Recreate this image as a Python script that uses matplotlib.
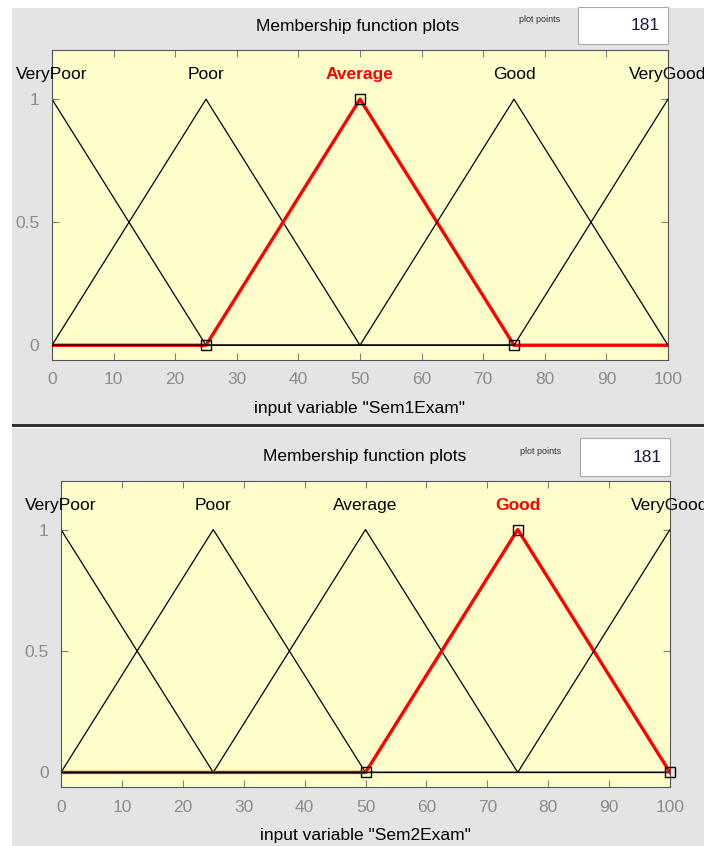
import matplotlib
matplotlib.use("Agg")
import matplotlib.pyplot as plt
from matplotlib.patches import Rectangle

plt.rcParams['font.family'] = ['Liberation Sans Narrow', 'Liberation Sans', 'DejaVu Sans']

# membership functions (triangles), vertices clipped to [0, 100]
mf_names = ["VeryPoor", "Poor", "Average", "Good", "VeryGood"]
mf_peaks = [0, 25, 50, 75, 100]
mf_x = [[0, 25, 100], [0, 25, 50, 100], [0, 25, 50, 75, 100], [0, 50, 75, 100], [0, 75, 100]]
mf_y = [[1, 0, 0], [0, 1, 0, 0], [0, 0, 1, 0, 0], [0, 0, 1, 0], [0, 0, 1]]

panels = [
    {"var": "Sem1Exam", "sel": 2, "tri_x": [25, 50, 75], "tri_y": [0, 1, 0]},
    {"var": "Sem2Exam", "sel": 3, "tri_x": [50, 75, 100], "tri_y": [0, 1, 0]},
]
plot_points = "181"
xticks = list(range(0, 101, 10))
yticks = [0, 0.5, 1]

W, H = 704, 846
fig = plt.figure(figsize=(W / 100, H / 100), dpi=100)
fig.patch.set_facecolor("white")

def px(x0, y0, x1, y1):
    # pixel box (top-left origin) -> figure fraction
    return [x0 / W, 1 - y1 / H, (x1 - x0) / W, (y1 - y0) / H]

bg = "#e4e4e4"
fig.add_artist(Rectangle((12 / W, 1 - 424 / H), 1, 416 / H, transform=fig.transFigure,
                         facecolor=bg, edgecolor="none", zorder=0))
fig.add_artist(Rectangle((12 / W, 0), 1, 1 - 428 / H, transform=fig.transFigure,
                         facecolor=bg, edgecolor="none", zorder=0))
fig.add_artist(Rectangle((12 / W, 1 - 427 / H), 1, 2.5 / H, transform=fig.transFigure,
                         facecolor="#333333", edgecolor="none", zorder=1))

# layout per panel: axes box, title, "plot points" box
boxes = [
    {"ax": (52, 50, 668, 360), "title": (358, 26), "pp": (540, 20), "box": (578, 7, 668, 44)},
    {"ax": (61, 481, 670, 787), "title": (365, 457), "pp": (541, 451), "box": (580, 438, 670, 476)},
]

for p, b in zip(panels, boxes):
    x0, y0, x1, y1 = b["ax"]
    ax = fig.add_axes(px(x0, y0, x1, y1))
    ax.set_facecolor("#ffffcc")
    for i, name in enumerate(mf_names):
        sel = i == p["sel"]
        if sel:
            ax.plot(mf_x[i], mf_y[i], color="red", lw=2.4, zorder=2 + i)
        else:
            ax.plot(mf_x[i], mf_y[i], color="black", lw=0.9, zorder=2 + i)
        ax.text(mf_peaks[i], 1.1, name, ha="center", va="center", fontsize=12.5,
                color="red" if sel else "black", fontweight="bold" if sel else "normal",
                clip_on=False, zorder=10)
    ax.plot(p["tri_x"], p["tri_y"], ls="none", marker="s", ms=6.5, mfc="none",
            mec="black", mew=1.0, clip_on=False, zorder=20)
    ax.set_xlim(0, 100)
    ax.set_ylim(-0.06, 1.2)
    ax.set_xticks(xticks)
    ax.set_yticks(yticks)
    ax.set_yticklabels(["0", "0.5", "1"])
    ax.tick_params(direction="in", length=5, color="#808080", labelcolor="#8c8c8c",
                   labelsize=12.5, top=True, right=True, pad=9)
    for s in ax.spines.values():
        s.set_color("#555555")
        s.set_linewidth(0.8)
    ax.set_xlabel('input variable "%s"' % p["var"], fontsize=12.5, labelpad=10)

    tx, ty = b["title"]
    fig.text(tx / W, 1 - ty / H, "Membership function plots", ha="center", va="center",
             fontsize=12.5)
    ppx, ppy = b["pp"]
    fig.text(ppx / W, 1 - ppy / H, "plot points", ha="center", va="center", fontsize=6.5,
             color="#333333")
    bx0, by0, bx1, by1 = b["box"]
    fig.add_artist(Rectangle((bx0 / W, 1 - by1 / H), (bx1 - bx0) / W, (by1 - by0) / H,
                             transform=fig.transFigure, facecolor="white",
                             edgecolor="#aaaaaa", lw=0.8, zorder=2))
    fig.text((bx1 - 8) / W, 1 - (by0 + by1) / 2 / H, plot_points, ha="right", va="center",
             fontsize=12.5, color="#1a1a40", zorder=3)

fig.savefig("out.png", dpi=100, facecolor=fig.get_facecolor())
